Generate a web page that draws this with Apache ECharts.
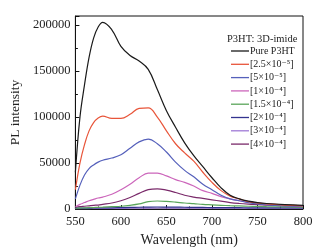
<!DOCTYPE html>
<html><head><meta charset="utf-8">
<script src="https://cdn.jsdelivr.net/npm/echarts@6/dist/echarts.min.js"></script>
<style>html,body{margin:0;padding:0;background:#fff}#c{width:318px;height:252px}</style>
</head><body><div id="c"></div>
<script>
const wavelengths = [550,555,560,565,570,575,580,590,600,610,620,630,640,650,660,670,680,690,700,710,720,730,740,750,760,780,800];
const seriesNames = ['Pure P3HT','[2.5×10⁻⁵]','[5×10⁻⁵]','[1×10⁻⁴]','[1.5×10⁻⁴]','[2×10⁻⁴]','[3×10⁻⁴]','[4×10⁻⁴]'];
const pureP3HT = [40000,100000,135000,165000,186000,198000,203000,195000,177000,167000,161000,152000,130000,107000,89000,72000,58000,46000,34000,23000,15000,11000,8500,7000,6000,4800,4000];
const c2_5e5 = [21000,50000,70000,85000,94000,99000,101000,98500,98500,103000,109500,110000,100000,85000,71000,61000,52000,40000,29000,20000,14000,11000,8000,6500,5500,4300,3500];
const c5e5 = [11000,26000,37000,44000,48000,51000,53000,55500,59000,66000,73000,76000,71000,62000,51000,42000,35000,27000,21000,15000,11000,9000,7000,5500,4500,3500,3000];
const c1e4 = [2500,5000,7000,9000,10500,12000,13000,16000,21000,27000,34000,39000,39000,36000,32000,29000,25000,20000,17000,13500,11000,9000,7500,6500,5500,4000,3000];
const c1_5e4 = [800,1000,1200,1400,1600,1800,2000,2500,3000,4000,5500,8000,8700,8300,7500,6500,5800,5000,4500,4000,3600,3300,3000,2800,2600,2300,2000];
const c2e4 = [800,900,1000,1000,1100,1100,1200,1300,1500,1700,1900,2100,2200,2100,2000,1900,1800,1700,1600,1500,1400,1400,1300,1300,1300,1200,1200];
const c3e4 = [400,450,500,500,550,550,600,650,700,800,900,1000,1100,1050,1000,950,900,900,850,850,800,800,800,800,800,800,800];
const c4e4 = [1500,2500,3000,3500,4000,4300,5000,6500,9000,12500,17000,21000,22000,20500,18000,15000,13000,11500,10000,8500,7000,6000,5300,4800,4300,3500,3000];
const allValues = [pureP3HT,c2_5e5,c5e5,c1e4,c1_5e4,c2e4,c3e4,c4e4];
const colors = ['#1a1a1a','#e8553a','#5560bb','#cc66bb','#5aa55a','#33338f','#a07ad6','#7a2a6a'];
const xTicks = [550,600,650,700,750,800];
const yTicks = [0,50000,100000,150000,200000];

const serif = '"Liberation Serif","DejaVu Serif",serif';
const chart = echarts.init(document.getElementById('c'), null, {renderer:'canvas'});
chart.setOption({
  animation:false,
  backgroundColor:'#fff',
  grid:{left:69,right:15,top:16,bottom:42,show:true,borderColor:'#111',borderWidth:1,backgroundColor:'transparent'},
  title:{text:'P3HT: 3D-imide',left:222,top:29,textStyle:{fontFamily:serif,fontSize:10.5,fontWeight:'normal',color:'#222'}},
  legend:{orient:'vertical',left:226,top:39.5,itemWidth:18,itemHeight:1.3,itemGap:0.3,icon:'rect',
    data:seriesNames,
    textStyle:{fontFamily:serif,fontSize:10,color:'#222',lineHeight:13,padding:[0,0,0,-4]}},
  xAxis:{type:'value',min:xTicks[0],max:xTicks[xTicks.length-1],interval:50,
    name:'Wavelength (nm)',nameLocation:'middle',nameGap:24,
    nameTextStyle:{fontFamily:serif,fontSize:14,color:'#222'},
    axisLine:{lineStyle:{color:'#111'}},
    axisTick:{inside:true,length:4,lineStyle:{color:'#111'}},
    minorTick:{show:true,splitNumber:2,length:2.5,lineStyle:{color:'#111'}},
    splitLine:{show:false},
    axisLabel:{fontFamily:serif,fontSize:12.5,color:'#222',margin:6}},
  yAxis:{type:'value',min:yTicks[0],max:210000,interval:50000,
    name:'PL intensity',nameLocation:'middle',nameGap:53,
    nameTextStyle:{fontFamily:serif,fontSize:13.5,color:'#222'},
    axisLine:{show:true,lineStyle:{color:'#111'}},
    axisTick:{inside:true,length:4,lineStyle:{color:'#111'}},
    minorTick:{show:true,splitNumber:2,length:2.5,lineStyle:{color:'#111'}},
    splitLine:{show:false},
    axisLabel:{fontFamily:serif,fontSize:12.5,color:'#222',margin:5,showMaxLabel:false,formatter:v=>String(v)}},
  series: seriesNames.map((n,i)=>({
    name:n,type:'line',smooth:0.4,symbol:'none',showSymbol:false,
    color:colors[i],
    lineStyle:{width:1.2,color:colors[i]},
    z: 10-i,
    data: wavelengths.map((w,j)=>[w,allValues[i][j]])
  }))
});
</script></body></html>
